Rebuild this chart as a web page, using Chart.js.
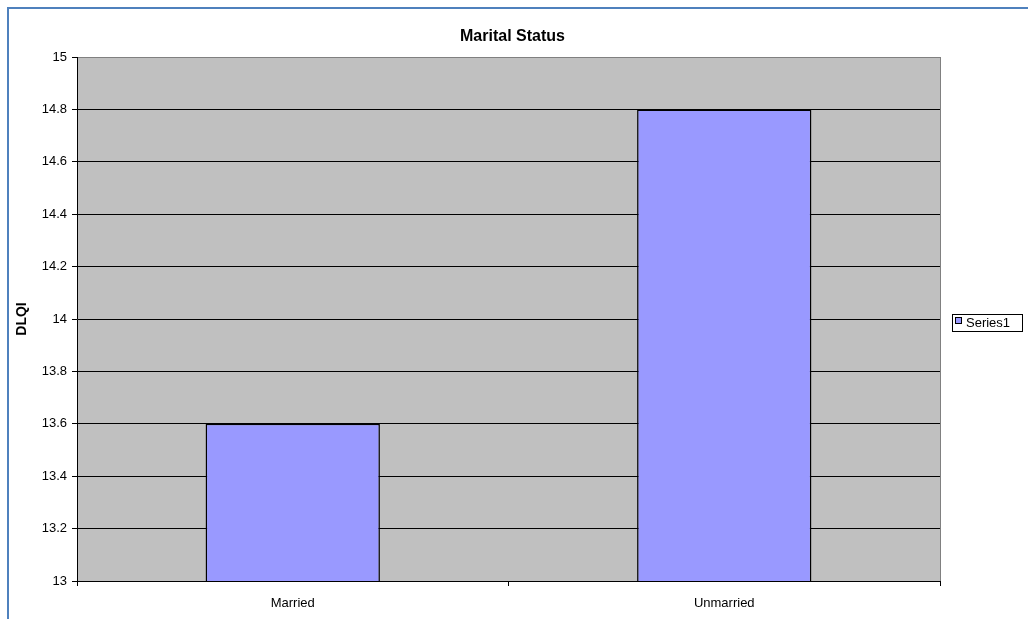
<!DOCTYPE html>
<html><head><meta charset="utf-8">
<script src="https://cdn.jsdelivr.net/npm/chart.js@4"></script>
<style>html,body{margin:0;padding:0;background:#fff;overflow:hidden}#wrap{width:1028px;height:619px;position:relative}</style>
</head><body><div id="wrap"><canvas id="c" width="1028" height="619"></canvas></div>
<script>
const chartTitle = 'Marital Status';
const categories = ['Married', 'Unmarried'];
const seriesName = 'Series1';
const seriesValues = [13.6, 14.8];
const yAxisTitle = 'DLQI';
const yMin = 13, yMax = 15, yStep = 0.2;

const FONT = "'Liberation Sans', Arial, sans-serif";

const decor = {
  id: 'decor',
  beforeDraw(chart) {
    const ctx = chart.ctx, a = chart.chartArea;
    ctx.save();
    ctx.fillStyle = '#fff';
    ctx.fillRect(0, 0, chart.width, chart.height);
    ctx.fillStyle = '#C0C0C0';
    ctx.fillRect(a.left, a.top, a.right - a.left, a.bottom - a.top);
    ctx.restore();
  },
  afterDraw(chart) {
    const ctx = chart.ctx, a = chart.chartArea;
    ctx.save();
    // outer frame
    ctx.strokeStyle = '#4F81BD';
    ctx.lineWidth = 2;
    ctx.beginPath();
    ctx.moveTo(8, chart.height + 5);
    ctx.lineTo(8, 8);
    ctx.lineTo(chart.width + 5, 8);
    ctx.stroke();
    // plot area right border
    ctx.strokeStyle = '#808080';
    ctx.lineWidth = 1;
    ctx.beginPath();
    ctx.moveTo(Math.round(a.right) + 0.5, a.top);
    ctx.lineTo(Math.round(a.right) + 0.5, a.bottom);
    ctx.stroke();
    // title
    ctx.fillStyle = '#000';
    ctx.font = 'bold 16px ' + FONT;
    ctx.textAlign = 'center';
    ctx.textBaseline = 'middle';
    ctx.fillText(chartTitle, (a.left + a.right) / 2 + 4, 37);
    // legend
    const lx = 952, ly = 314, lw = 70, lh = 17;
    ctx.fillStyle = '#fff';
    ctx.fillRect(lx, ly, lw, lh);
    ctx.strokeStyle = '#000';
    ctx.strokeRect(lx + 0.5, ly + 0.5, lw, lh);
    const ds = chart.data.datasets[0];
    ctx.fillStyle = ds.backgroundColor;
    ctx.fillRect(955, 317, 6, 6);
    ctx.strokeStyle = '#000';
    ctx.strokeRect(955.5, 317.5, 6, 6);
    ctx.fillStyle = '#000';
    ctx.font = '13px ' + FONT;
    ctx.textAlign = 'left';
    ctx.textBaseline = 'middle';
    ctx.fillText(ds.label, 966, 323);
    ctx.restore();
  }
};

new Chart(document.getElementById('c'), {
  type: 'bar',
  data: {
    labels: categories,
    datasets: [{
      label: seriesName,
      data: seriesValues,
      backgroundColor: '#9999FF',
      borderColor: '#000',
      borderWidth: 1.5,
      barPercentage: 0.404,
      categoryPercentage: 1
    }]
  },
  options: {
    responsive: false,
    animation: false,
    devicePixelRatio: 1,
    layout: { padding: { left: 10, right: 88, top: 57, bottom: 0 } },
    plugins: {
      legend: { display: false },
      title: { display: false },
      tooltip: { enabled: false }
    },
    scales: {
      x: {
        afterFit(s) { s.height = 38; },
        grid: { display: true, drawOnChartArea: false, drawTicks: true, tickLength: 5, offset: true, color: '#000' },
        border: { display: true, color: '#000', width: 1 },
        ticks: { color: '#000', padding: 10, font: { family: FONT, size: 13 } }
      },
      y: {
        min: yMin, max: yMax,
        afterFit(s) { s.width = 67; },
        afterBuildTicks(s) {
          const t = [];
          for (let i = 0; i <= Math.round((yMax - yMin) / yStep); i++) t.push({ value: +(yMin + i * yStep).toFixed(1) });
          s.ticks = t;
        },
        grid: {
          color: c => (c.tick && c.tick.value === yMax) ? '#808080' : '#000',
          tickColor: '#000',
          tickLength: 5,
          lineWidth: 1
        },
        border: { display: true, color: '#000', width: 1 },
        ticks: {
          color: '#000', padding: 5,
          font: { family: FONT, size: 13 },
          callback: v => String(+(+v).toFixed(1))
        },
        title: {
          display: true, text: yAxisTitle, color: '#000',
          font: { family: FONT, size: 14, weight: 'bold' },
          padding: { top: 4, bottom: 4 }
        }
      }
    }
  },
  plugins: [decor]
});
</script>
</body></html>
